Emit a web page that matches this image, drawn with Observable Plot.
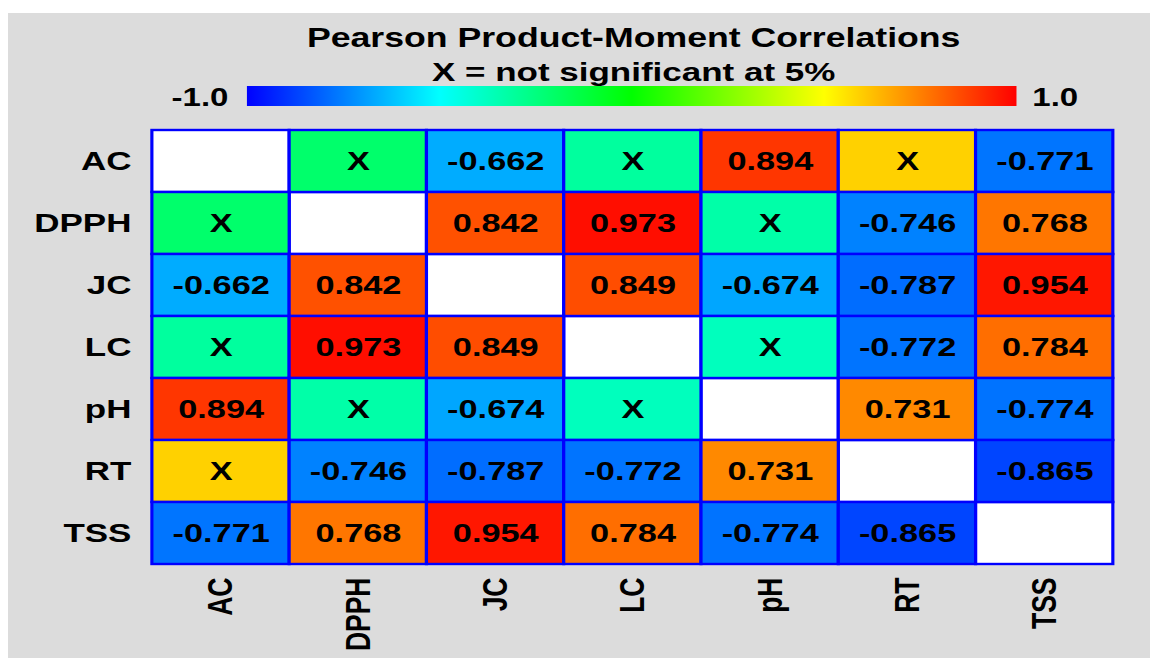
<!DOCTYPE html>
<html>
<head>
<meta charset="utf-8">
<script src="https://cdn.jsdelivr.net/npm/d3@7"></script>
<script src="https://cdn.jsdelivr.net/npm/@observablehq/plot@0.6"></script>
<style>
  html, body { margin: 0; padding: 0; background: #ffffff; width: 1150px; height: 658px; overflow: hidden; }
  #panel { position: absolute; left: 8px; top: 13px; width: 1142px; height: 645px; background: #dcdcdc; }
  #stage { position: absolute; left: 8px; top: 0; width: 865px; height: 658px;
           transform: scaleX(1.32); transform-origin: 0 0;
           font-family: "Liberation Sans", Arial, sans-serif; font-weight: bold; color: #000; }
  .t { position: absolute; white-space: nowrap; line-height: 1; }
</style>
</head>
<body>
<div id="panel"></div>
<div id="stage">
  <div class="t" id="title" style="left:474px; top:25px; font-size:27px; transform: translateX(-50%);"></div>
  <div class="t" id="subtitle" style="left:474px; top:59px; font-size:26.5px; transform: translateX(-50%);"></div>
  <div id="bar" style="position:absolute; left:181px; top:86px; width:583px; height:20px;"></div>
  <div class="t" id="lo" style="right:698px; top:85px; font-size:25px;"></div>
  <div class="t" id="hi" style="left:776px; top:85px; font-size:25px;"></div>
  <div id="chart" style="position:absolute; left:0; top:0;"></div>
</div>
<script>
const titleText = "Pearson Product-Moment Correlations";
const subtitleText = "X = not significant at 5%";
const vars = ["AC", "DPPH", "JC", "LC", "pH", "RT", "TSS"];
// correlation matrix (null on the diagonal); non-significant values
const rAC   = [null, -0.21, -0.662, -0.31, 0.894, 0.59, -0.771];
const rDPPH = [-0.21, null, 0.842, 0.973, -0.33, -0.746, 0.768];
const rJC   = [-0.662, 0.842, null, 0.849, -0.674, -0.787, 0.954];
const rLC   = [-0.31, 0.973, 0.849, null, -0.37, -0.772, 0.784];
const rPH   = [0.894, -0.33, -0.674, -0.37, null, 0.731, -0.774];
const rRT   = [0.59, -0.746, -0.787, -0.772, 0.731, null, -0.865];
const rTSS  = [-0.771, 0.768, 0.954, 0.784, -0.774, -0.865, null];
const notSignificant = [["AC","DPPH"], ["AC","LC"], ["AC","RT"], ["DPPH","pH"], ["LC","pH"]];
const colorStops = [-1, -0.5, 0, 0.5, 1];
const stopColors = ["#0000ff", "#00ffff", "#00ff00", "#ffff00", "#ff0000"];
const barLabels = ["-1.0", "1.0"];

const matrix = [rAC, rDPPH, rJC, rLC, rPH, rRT, rTSS];
const isNS = (a, b) => notSignificant.some(([p, q]) => (p === a && q === b) || (p === b && q === a));
const cells = [];
const diag = [];
vars.forEach((row, i) => vars.forEach((col, j) => {
  const v = matrix[i][j];
  if (v === null) diag.push({row, col});
  else cells.push({row, col, v, label: isNS(row, col) ? "X" : v.toFixed(3)});
}));

document.getElementById("title").textContent = titleText;
document.getElementById("subtitle").textContent = subtitleText;
document.getElementById("lo").textContent = barLabels[0];
document.getElementById("hi").textContent = barLabels[1];
document.getElementById("bar").style.background =
  "linear-gradient(to right, " + colorStops.map((s, i) => `${stopColors[i]} ${(s + 1) / 2 * 100}%`).join(", ") + ")";

const chart = Plot.plot({
  width: 865,
  height: 658,
  marginTop: 128,
  marginBottom: 92,
  marginLeft: 109,
  marginRight: 28,
  style: {background: "transparent", fontFamily: "Liberation Sans, Arial, sans-serif", fontWeight: "bold", color: "#000", overflow: "visible"},
  x: {domain: vars, padding: 0, label: null},
  y: {domain: vars, padding: 0, label: null},
  color: {type: "linear", domain: colorStops, range: stopColors, interpolate: "rgb"},
  marks: [
    Plot.cell(diag, {x: "col", y: "row", fill: "white", stroke: "#0000ff", strokeWidth: 2.4}),
    Plot.cell(cells, {x: "col", y: "row", fill: "v", stroke: "#0000ff", strokeWidth: 2.4}),
    Plot.text(cells, {x: "col", y: "row", text: "label", fill: "black", fontSize: 26, fontWeight: "bold"}),
    Plot.axisY({tickSize: 0, tickPadding: 16, fontSize: 26.5, fontWeight: "bold", label: null}),
    Plot.axisX({anchor: "bottom", tickSize: 0, tickPadding: 11, tickRotate: -90, fontSize: 26.5, fontWeight: "bold", label: null})
  ]
});
document.getElementById("chart").appendChild(chart);
</script>
</body>
</html>
